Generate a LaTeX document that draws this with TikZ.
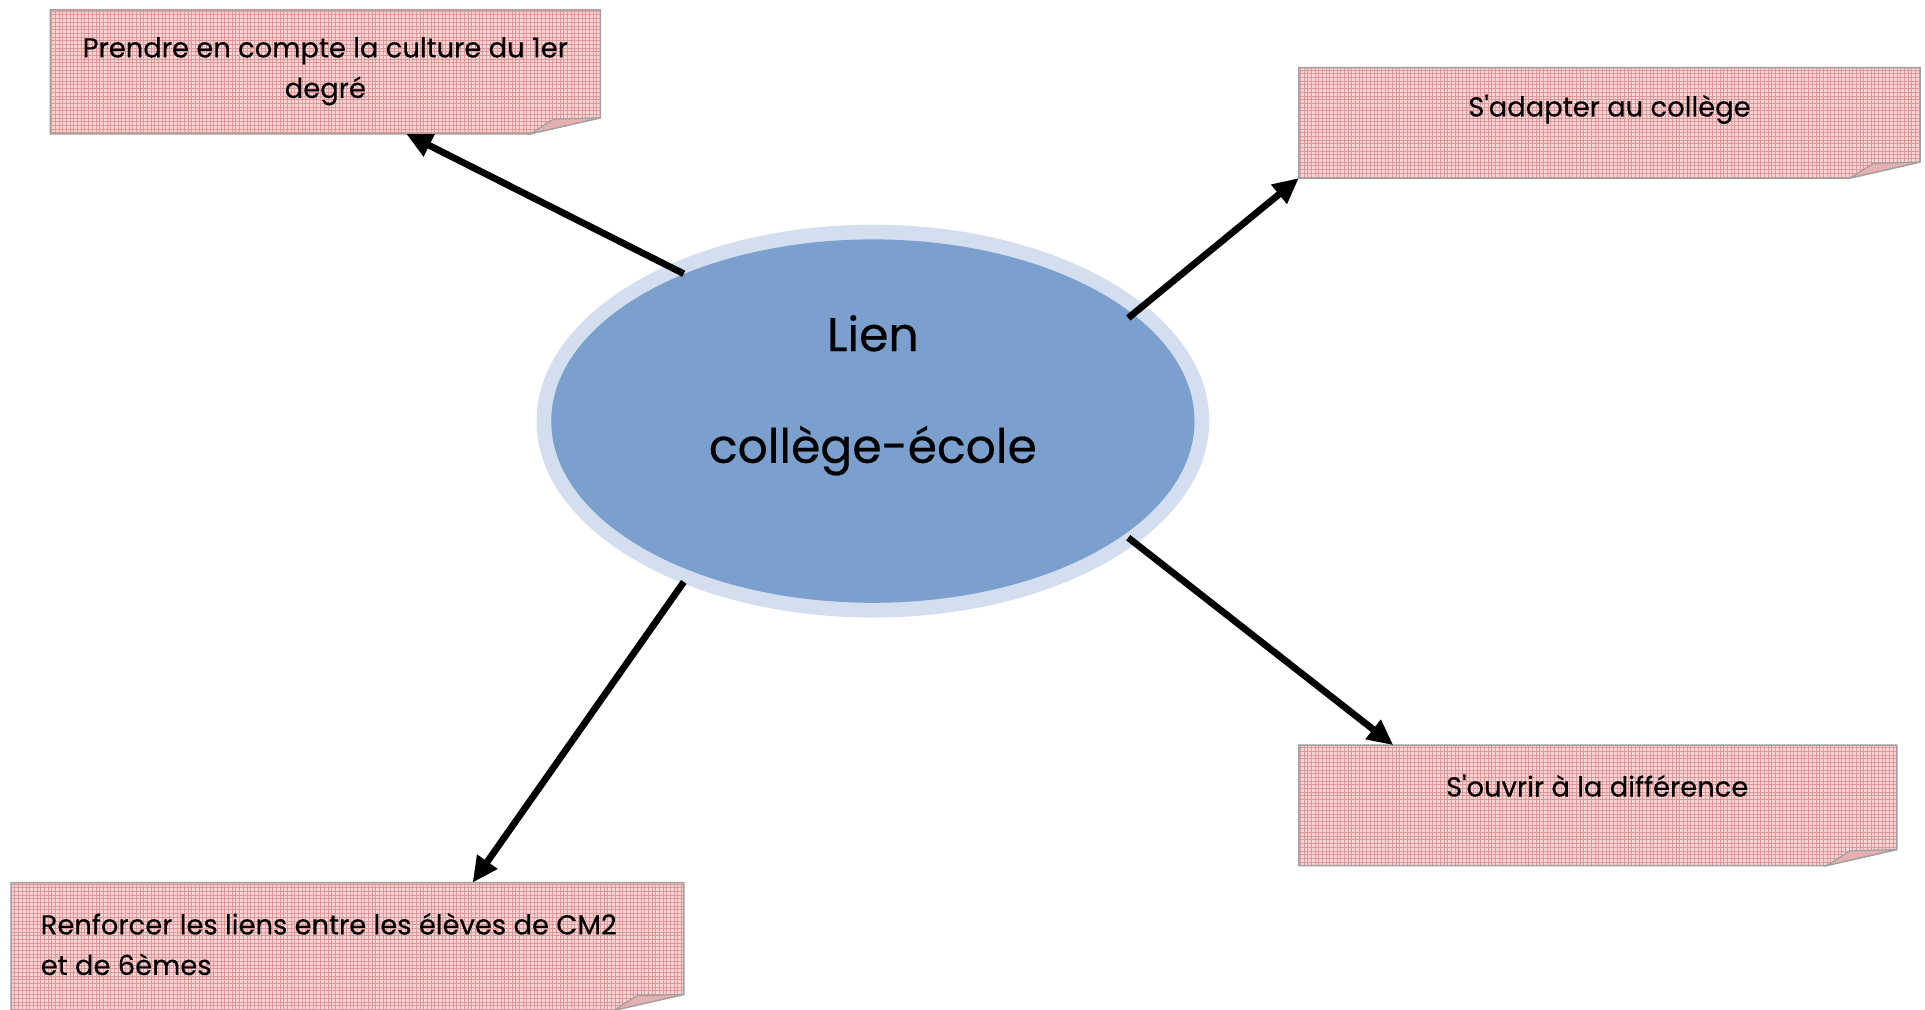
\documentclass[tikz,border=0pt]{standalone}
\usepackage{fontspec}
\setmainfont{Poppins}[Ligatures=TeXOff,FakeBold=0.4]
\usetikzlibrary{arrows.meta,calc,patterns,shapes.geometric}
\definecolor{ringc}{RGB}{211,223,238}
\definecolor{ellc}{RGB}{124,160,205}
\definecolor{notefill}{RGB}{246,214,214}
\definecolor{notegrid}{RGB}{226,150,150}
\definecolor{noteedge}{RGB}{160,160,160}
\definecolor{flapc}{RGB}{228,176,176}
\newcommand\mynote[1]{%
  \draw[noteedge,line width=1.2pt,preaction={fill=notefill},pattern=grid,pattern color=notegrid]
    (#1.north west) -- (#1.north east) -- ($(#1.south east)+(0,-13)$)
    -- ($(#1.south east)+(-57,0)$) -- (#1.south west) -- cycle;
  \draw[noteedge,line width=1pt,fill=flapc]
    ($(#1.south east)+(-57,0)$) -- ($(#1.south east)+(-38,-12)$)
    -- ($(#1.south east)+(0,-13)$) -- cycle;
}
\begin{document}
\begin{tikzpicture}[x=1pt,y=-1pt,
  boxarea/.style={rectangle,inner sep=0pt,outer sep=0pt,draw=none},
  notetext/.style={font=\fontsize{22.3}{33}\selectfont,inner sep=0pt},
  link/.style={line width=5.5pt,-{Triangle[length=21pt,width=19pt]}},
]
\useasboundingbox (0,0) rectangle (1568,822);

% central ellipse
\node[ellipse,fill=ringc,inner sep=0pt,minimum width=548pt,minimum height=320pt] (ring) at (711,343) {};
\node[ellipse,fill=ellc,inner sep=0pt,outer sep=0pt,minimum width=524pt,minimum height=296pt] (c) at (711,343) {};
\node[font=\fontsize{38.5}{91}\selectfont,align=center,inner sep=0pt] (ctext) at (711,322) {Lien\\collège-école};

% boxes
\node[boxarea,minimum width=448pt,minimum height=101pt] (b1) at (265,58.5) {};
\node[boxarea,minimum width=506pt,minimum height=90pt] (b2) at (1311,100) {};
\node[boxarea,minimum width=487pt,minimum height=98pt] (b3) at (1301.5,656) {};
\node[boxarea,minimum width=548pt,minimum height=104pt] (b4) at (283,771) {};
\mynote{b1}
\mynote{b2}
\mynote{b3}
\mynote{b4}

\node[notetext,align=center] (t1) at (265,58) {Prendre en compte la culture du 1er\\degré};
\node[notetext] (t2) at (1311,89) {S'adapter au collège};
\node[notetext] (t3) at (1301,640) {S'ouvrir à la différence};
\node[notetext,align=left,anchor=west] (t4) at (33,769) {Renforcer les liens entre les élèves de CM2\\et de 6èmes};

% connectors
\draw[link] ($(c.center)+(-154,-120)$) -- ($(b1.south west)!0.647!(b1.south east)$);
\draw[link] ($(c.center)+(208,-84)$) -- (b2.south west);
\draw[link] ($(c.center)+(208,95)$) -- ($(b3.north west)!0.158!(b3.north east)$);
\draw[link] ($(c.center)+(-154,131)$) -- ($(b4.north west)!0.686!(b4.north east)$);
\end{tikzpicture}
\end{document}
